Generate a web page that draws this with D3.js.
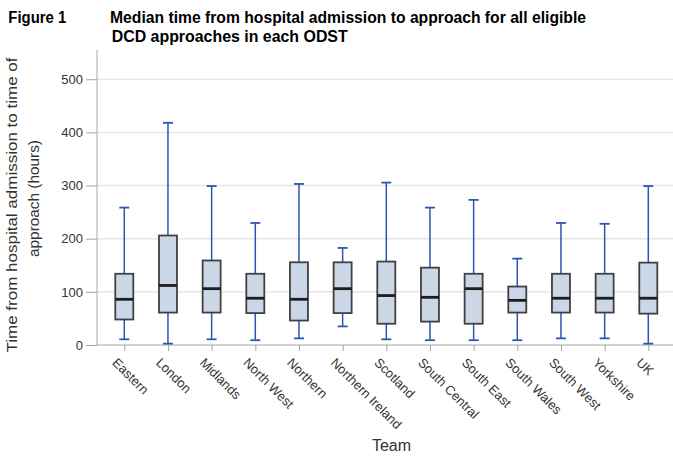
<!DOCTYPE html>
<html>
<head>
<meta charset="utf-8">
<script src="https://cdn.jsdelivr.net/npm/d3@7"></script>
<style>
  html, body { margin: 0; padding: 0; background: #fff; }
  svg { display: block; font-family: "Liberation Sans", Arial, sans-serif; }
</style>
</head>
<body>
<svg id="chart" width="673" height="457"></svg>
<script>
const teams = ["Eastern","London","Midlands","North West","Northern","Northern Ireland","Scotland","South Central","South East","South Wales","South West","Yorkshire","UK"];
const whiskerLow  = [10.7, 2.5, 10.7, 9, 12.5, 35, 10.7, 9, 9, 9, 12.5, 12.5, 2.5];
const q1Values    = [48, 61, 61, 60, 46, 60, 40, 44, 40, 61, 61, 61, 59];
const medians     = [86, 112, 106, 88, 86, 106, 93, 89.7, 106, 84, 88, 88, 88];
const q3Values    = [134, 206, 159, 134, 155.6, 155.6, 157, 145.5, 134, 110, 134, 134, 155];
const whiskerHigh = [258.5, 418, 299, 229.6, 303, 182.6, 305.5, 258.5, 273, 162.5, 229.6, 228, 299];
const yTicks = [0, 100, 200, 300, 400, 500];

const svg = d3.select("#chart");
const plotLeft = 97, plotRight = 673, plotBottom = 345;

const y = d3.scaleLinear().domain([0, 555]).range([plotBottom, 50]);
const x = d3.scalePoint().domain(teams).range([124.3, 648.3]);

// gridlines
svg.append("g").selectAll("line").data(yTicks.filter(d => d > 0)).join("line")
  .attr("x1", plotLeft).attr("x2", plotRight)
  .attr("y1", d => y(d)).attr("y2", d => y(d))
  .attr("stroke", "#e6e6e6").attr("stroke-width", 1.5);

// y axis
const yAxis = d3.axisLeft(y).tickValues(yTicks).tickSize(11).tickPadding(3);
const gy = svg.append("g").attr("transform", `translate(${plotLeft},0)`).call(yAxis);
gy.select(".domain").attr("stroke", "#a6a6a6").attr("d", `M0,${y(555)}V${plotBottom}`);
gy.selectAll(".tick line").attr("stroke", "#a6a6a6");
gy.selectAll(".tick text").attr("font-size", 13).attr("fill", "#333")
  .attr("font-family", "Liberation Sans, Arial, sans-serif");

// x axis
const xAxis = d3.axisBottom(x).tickSize(6).tickFormat("");
const gx = svg.append("g").attr("transform", `translate(0,${plotBottom})`).call(xAxis);
gx.select(".domain").attr("stroke", "#a6a6a6").attr("d", `M${plotLeft},0H${plotRight}`);
gx.selectAll(".tick line").attr("stroke", "#a6a6a6");

// x labels rotated
svg.append("g").selectAll("text").data(teams).join("text")
  .attr("transform", d => `translate(${x(d)},${plotBottom}) rotate(45)`)
  .attr("x", 4).attr("y", 22)
  .attr("font-size", 13).attr("fill", "#333")
  .text(d => d);

// boxes
const boxW = 18, capW = 10;
const data = teams.map((t, i) => ({t, lo: whiskerLow[i], q1: q1Values[i], med: medians[i], q3: q3Values[i], hi: whiskerHigh[i]}));
const g = svg.append("g").selectAll("g").data(data).join("g")
  .attr("transform", d => `translate(${x(d.t)},0)`);
const wc = "#2b56b3";
g.append("line").attr("x1", 0).attr("x2", 0).attr("y1", d => y(d.hi)).attr("y2", d => y(d.q3))
  .attr("stroke", wc).attr("stroke-width", 1.5);
g.append("line").attr("x1", 0).attr("x2", 0).attr("y1", d => y(d.q1)).attr("y2", d => y(d.lo))
  .attr("stroke", wc).attr("stroke-width", 1.5);
g.append("line").attr("x1", -capW/2).attr("x2", capW/2).attr("y1", d => y(d.hi)).attr("y2", d => y(d.hi))
  .attr("stroke", wc).attr("stroke-width", 1.8);
g.append("line").attr("x1", -capW/2).attr("x2", capW/2).attr("y1", d => y(d.lo)).attr("y2", d => y(d.lo))
  .attr("stroke", wc).attr("stroke-width", 1.8);
g.append("rect").attr("x", -boxW/2).attr("width", boxW)
  .attr("y", d => y(d.q3)).attr("height", d => y(d.q1) - y(d.q3))
  .attr("fill", "#cbd6e6").attr("stroke", "#404040").attr("stroke-width", 1.8);
g.append("line").attr("x1", -boxW/2).attr("x2", boxW/2).attr("y1", d => y(d.med)).attr("y2", d => y(d.med))
  .attr("stroke", "#1e1e1e").attr("stroke-width", 2.8);

// titles
svg.append("text").attr("x", 8.3).attr("y", 22.7).attr("font-size", 16).attr("font-weight", "bold")
  .attr("textLength", 58).attr("lengthAdjust", "spacingAndGlyphs").text("Figure 1");
svg.append("text").attr("x", 110).attr("y", 22.7).attr("font-size", 16).attr("font-weight", "bold")
  .attr("textLength", 476).attr("lengthAdjust", "spacingAndGlyphs")
  .text("Median time from hospital admission to approach for all eligible");
svg.append("text").attr("x", 111.7).attr("y", 42.3).attr("font-size", 16).attr("font-weight", "bold")
  .attr("textLength", 236).attr("lengthAdjust", "spacingAndGlyphs")
  .text("DCD approaches in each ODST");

// axis titles
svg.append("text").attr("x", 391.5).attr("y", 451).attr("text-anchor", "middle")
  .attr("font-size", 16).attr("fill", "#333").text("Team");
svg.append("text").attr("transform", "translate(17.3,205) rotate(-90)")
  .attr("text-anchor", "middle").attr("font-size", 14).attr("fill", "#333")
  .attr("textLength", 295).attr("lengthAdjust", "spacingAndGlyphs")
  .text("Time from hospital admission to time of");
svg.append("text").attr("transform", "translate(39.3,198.5) rotate(-90)")
  .attr("text-anchor", "middle").attr("font-size", 14).attr("fill", "#333")
  .attr("textLength", 117).attr("lengthAdjust", "spacingAndGlyphs")
  .text("approach (hours)");
</script>
</body>
</html>
